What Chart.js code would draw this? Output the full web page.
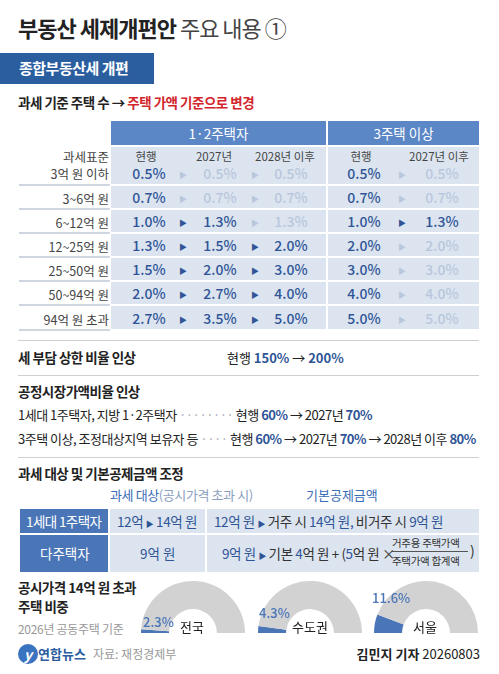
<!DOCTYPE html>
<html><head><meta charset="utf-8">
<script src="https://cdn.jsdelivr.net/npm/chart.js@4.4.0/dist/chart.umd.min.js"></script>
<style>
body{margin:0;width:499px;height:674px;background:#fff;font-family:"Noto Sans CJK KR","Noto Sans",sans-serif;position:relative;overflow:hidden;color:#222}
.a{position:absolute;white-space:nowrap}
.b{font-weight:700}
.blue{color:#2f5597}
.fade{color:#b9c7dc}
.cell{position:absolute;background:#dce4f0}
.hl{position:absolute;height:1px;background:#d0d0d0}
.v{position:absolute;font-size:14px;transform:translateX(-50%);font-weight:500}
.ar{position:absolute;font-size:8px;transform:translateX(-50%)}
</style></head><body>
<div class="a b" style="left:18px;top:11px;font-size:22px;letter-spacing:-1px">부동산 세제개편안 <span style="font-weight:400;color:#444">주요 내용 ①</span></div>
<div class="a" style="left:0;top:53px;width:154px;height:31px;background:#2b5e9f"></div>
<div class="a b" style="left:19px;top:57px;font-size:15px;color:#fff;letter-spacing:-0.5px">종합부동산세 개편</div>
<div class="a b" style="left:18px;top:92px;font-size:13.5px;letter-spacing:-0.5px">과세 기준 주택 수 → <span style="color:#d3252c">주택 가액 기준으로 변경</span></div>
<div id="tbl"></div>
<div class="hl" style="left:18px;width:461px;top:340px"></div>
<div class="a b" style="left:18px;top:347px;font-size:13.5px;letter-spacing:-0.5px">세 부담 상한 비율 인상</div>
<div class="a" style="left:227px;top:348px;font-size:13px">현행 <span class="blue b">150%</span> → <span class="blue b">200%</span></div>
<div class="hl" style="left:18px;width:461px;top:375px"></div>
<div class="a b" style="left:18px;top:381px;font-size:13.5px;letter-spacing:-0.5px">공정시장가액비율 인상</div>
<div class="a" style="left:18px;top:405px;font-size:13px;letter-spacing:-0.5px">1세대 1주택자, 지방 1·2주택자 <span style="color:#aab">········</span> 현행 <span class="blue b">60%</span> → 2027년 <span class="blue b">70%</span></div>
<div class="a" style="left:18px;top:429px;font-size:13px;letter-spacing:-0.5px">3주택 이상, 조정대상지역 보유자 등 <span style="color:#aab">····</span> 현행 <span class="blue b">60%</span> → 2027년 <span class="blue b">70%</span> → 2028년 이후 <span class="blue b">80%</span></div>
<div class="hl" style="left:18px;width:461px;top:457px"></div>
<div class="a b" style="left:18px;top:463px;font-size:13.5px;letter-spacing:-0.5px">과세 대상 및 기본공제금액 조정</div>
<div class="a" style="left:110px;top:485px;font-size:13px;color:#3a6db5;letter-spacing:-0.4px">과세 대상<span style="color:#8aa0c0">(공시가격 초과 시)</span></div>
<div class="a" style="left:306px;top:485px;font-size:13px;color:#3a6db5">기본공제금액</div>
<div class="a" style="left:20px;top:509px;width:88px;height:24px;background:#4a76b8"></div>
<div class="a" style="left:20px;top:535px;width:88px;height:37px;background:#4a76b8"></div>
<div class="cell" style="left:110px;top:509px;width:95px;height:24px"></div>
<div class="cell" style="left:207px;top:509px;width:272px;height:24px"></div>
<div class="cell" style="left:110px;top:535px;width:95px;height:37px"></div>
<div class="cell" style="left:207px;top:535px;width:272px;height:37px"></div>
<div class="a" style="left:26px;top:511px;font-size:13.5px;color:#fff;letter-spacing:-0.6px">1세대 1주택자</div>
<div class="a" style="left:40px;top:543px;font-size:13.5px;color:#fff">다주택자</div>
<div class="a blue" style="left:117px;top:511px;font-size:13.5px;letter-spacing:-0.4px">12억 <span style="font-size:8px">▶</span> 14억 원</div>
<div class="a blue" style="left:214px;top:511px;font-size:13.5px;letter-spacing:-0.4px">12억 원 <span style="font-size:8px">▶</span> <span style="color:#333">거주 시</span> 14억 원, <span style="color:#333">비거주 시</span> 9억 원</div>
<div class="a blue" style="left:140px;top:543px;font-size:13.5px">9억 원</div>
<div class="a" style="left:222px;top:543px;font-size:13.5px;color:#333;letter-spacing:-0.4px"><span class="blue">9억 원</span> <span style="font-size:8px;color:#2f5597">▶</span> 기본 <span class="blue">4</span>억 원 + (<span class="blue">5</span>억 원 ×</div>
<div class="a" style="left:392px;top:535px;font-size:10.5px;color:#333;letter-spacing:-0.3px">거주용 주택가액</div>
<div class="a" style="left:391px;top:551px;width:77px;height:1px;background:#555"></div>
<div class="a" style="left:392px;top:553px;font-size:10.5px;color:#333;letter-spacing:-0.3px">주택가액 합계액</div>
<div class="a" style="left:470px;top:540px;font-size:14px;color:#333">)</div>
<div class="a b" style="left:18px;top:578px;font-size:13.5px;line-height:19px;letter-spacing:-0.5px">공시가격 14억 원 초과<br>주택 비중</div>
<div class="a" style="left:18px;top:620px;font-size:12px;color:#999;letter-spacing:-0.3px">2026년 공동주택 기준</div>
<div id="donuts"></div>
<div class="a" style="left:18px;top:644px;width:20px;height:20px;border-radius:50%;background:#3a74c0;color:#fff;font-size:14px;text-align:center;line-height:20px;font-style:italic;font-weight:700">y</div>
<div class="a b" style="left:38px;top:644px;font-size:13px;color:#2b5e9f">연합뉴스</div>
<div class="a" style="left:93px;top:645px;font-size:12px;color:#999">자료: 재정경제부</div>
<div class="a" style="right:19px;top:644px;font-size:13px"><b>김민지 기자</b> 20260803</div>
<script>
const bracketLabels=["과세표준\n3억 원 이하","3~6억 원","6~12억 원","12~25억 원","25~50억 원","50~94억 원","94억 원 초과"];
const twoCurrent=[0.5,0.7,1.0,1.3,1.5,2.0,2.7];
const two2027=[0.5,0.7,1.3,1.5,2.0,2.7,3.5];
const two2028=[0.5,0.7,1.3,2.0,3.0,4.0,5.0];
const threeCurrent=[0.5,0.7,1.0,2.0,3.0,4.0,5.0];
const three2027=[0.5,0.7,1.3,2.0,3.0,4.0,5.0];
const regions=["전국","수도권","서울"];
const shares=[2.3,4.3,11.6];

const T=document.getElementById('tbl');
let h='';
h+='<div class="a" style="left:111px;top:121px;width:215px;height:24px;background:#5b87c7"></div>';
h+='<div class="a" style="left:328px;top:121px;width:151px;height:24px;background:#5b87c7"></div>';
h+='<div class="a" style="left:111px;top:123px;width:215px;text-align:center;color:#fff;font-size:13.5px">1·2주택자</div>';
h+='<div class="a" style="left:328px;top:123px;width:151px;text-align:center;color:#fff;font-size:13.5px">3주택 이상</div>';
const tops=[147,186,210,234,258,282,306], hs=[37,22,22,22,22,22,23];
for(let i=0;i<7;i++){
  const t=tops[i],H=hs[i];
  h+=`<div class="cell" style="left:111px;top:${t}px;width:215px;height:${H}px"></div>`;
  h+=`<div class="cell" style="left:328px;top:${t}px;width:151px;height:${H}px"></div>`;
  h+=`<div class="hl" style="left:19px;width:91px;top:${t+H}px;background:#cfd6e0;height:1.5px"></div>`;
  const vy=t+H-21;
  const lbl=bracketLabels[i].split('\n');
  if(lbl.length>1){
    h+=`<div class="a" style="right:390px;top:${t+1}px;font-size:12.5px;color:#444;text-align:right;line-height:17px">${lbl[0]}<br>${lbl[1]}</div>`;
  } else h+=`<div class="a" style="right:390px;top:${vy+2}px;font-size:12.5px;color:#444">${lbl[0]}</div>`;
  const ch=(a,b)=>a!==b;
  const c1=ch(twoCurrent[i],two2027[i]), c2=ch(two2027[i],two2028[i]), c3=ch(threeCurrent[i],three2027[i]);
  const v=(x,val,on)=>`<div class="v ${on?'blue':'fade'}" style="left:${x}px;top:${vy}px">${val.toFixed(1)}%</div>`;
  const ar=(x,on)=>`<div class="ar ${on?'blue':'fade'}" style="left:${x}px;top:${vy+6}px">▶</div>`;
  h+=v(149,twoCurrent[i],true)+ar(183,c1)+v(220,two2027[i],c1)+ar(255,c2)+v(291,two2028[i],c2);
  h+=v(364,threeCurrent[i],true)+ar(402,c3)+v(442,three2027[i],c3);
}
const sub=[[146,'현행'],[214,'2027년'],[285,'2028년 이후'],[361,'현행'],[439,'2027년 이후']];
sub.forEach(s=>h+=`<div class="a" style="left:${s[0]}px;top:148px;font-size:11.5px;color:#444;transform:translateX(-50%)">${s[1]}</div>`);
T.innerHTML=h;

const D=document.getElementById('donuts');
const lefts=[141,258,374];
const pctPos=[[143,612],[259,603],[372,588]];
const namePos=[[180,617],[292,617],[413,617]];
regions.forEach((r,i)=>{
  const c=document.createElement('canvas');
  c.width=104;c.height=54;
  c.style.cssText=`position:absolute;left:${lefts[i]}px;top:580px;width:104px;height:54px`;
  D.appendChild(c);
  new Chart(c,{type:'doughnut',data:{labels:[r,'기타'],datasets:[{data:[shares[i],100-shares[i]],backgroundColor:['#4a76b8','#d2d2d2'],borderWidth:0}]},
    options:{responsive:false,maintainAspectRatio:false,rotation:-90,circumference:180,cutout:'46%',animation:false,layout:{padding:0},plugins:{legend:{display:false},tooltip:{enabled:false}}}});
  const p=document.createElement('div');p.className='a';
  p.style.cssText=`left:${pctPos[i][0]}px;top:${pctPos[i][1]}px;font-size:13px;color:#4a76b8;font-weight:500;z-index:2`;
  p.textContent=shares[i]+'%';D.appendChild(p);
  const n=document.createElement('div');n.className='a';
  n.style.cssText=`left:${namePos[i][0]}px;top:${namePos[i][1]}px;font-size:13px;color:#222;z-index:2`;
  n.textContent=r;D.appendChild(n);
});
</script>
</body></html>
